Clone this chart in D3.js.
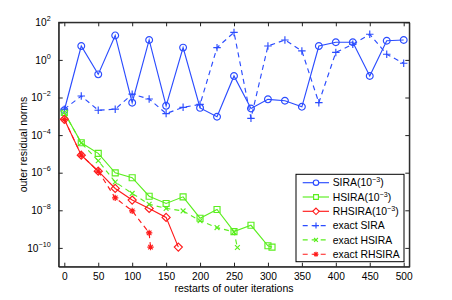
<!DOCTYPE html>
<html>
<head>
<meta charset="utf-8">
<script src="https://cdn.jsdelivr.net/npm/d3@7"></script>
<style>
  body { margin: 0; background: #fff; }
  text { font-family: "Liberation Sans", Arial, sans-serif; fill: #000; }
</style>
</head>
<body>
<script>
// restart counts and residual norms
var siraIters = [0,25,50,75,100,125,150,175,200,225,250,275,300,325,350,375,400,425,450,475,500];
var sira = [2.1e-3,5.5,0.17,20,5.3e-3,11.5,3.6e-3,4.5,2.8e-3,9.5e-4,0.14,2.6e-3,8e-3,6.7e-3,3.2e-3,5.5,8.7,8.7,0.14,10.5,11.5];
var exactSira = [2.4e-3,1.2e-2,2.1e-3,2.4e-3,1.5e-2,8.3e-3,1.4e-3,3e-3,4.3e-3,4.5,29,7.8e-4,5.5,11.5,3,5.3e-3,2.5,6.8,23,2,0.66];

var hsiraIters = [0,25,50,75,100,125,150,175,200,225,250,275,300,306];
var hsira = [1.6e-3,3.9e-5,1.07e-5,9.8e-7,5.4e-7,5.6e-8,2.3e-8,5.2e-8,3.8e-9,1.1e-8,7.4e-10,1.6e-9,1.3e-10,1.1e-10];
var exactHsiraIters = [0,25,50,75,100,125,150,175,200,225,250,255];
var exactHsira = [1.6e-3,3.8e-5,4.3e-6,3.2e-7,7.9e-8,2.1e-8,1.26e-8,9.3e-9,2.8e-9,1.2e-9,7.1e-10,1.05e-10];

var rhsiraIters = [0,25,50,75,100,125,150,168];
var rhsira = [6.9e-4,8.6e-6,1.2e-6,1.45e-7,3.5e-8,1.26e-8,4.2e-9,1.1e-10];
var exactRhsiraIters = [0,25,50,75,100,125,127];
var exactRhsira = [6.9e-4,8.6e-6,1.2e-6,4.6e-8,9.3e-9,6.3e-10,1.1e-10];

var xTicks = [0,50,100,150,200,250,300,350,400,450,500];
var yTicks = [1e-10,1e-8,1e-6,1e-4,1e-2,1,1e2];
var legendNames = ["SIRA", "HSIRA", "RHSIRA", "exact SIRA", "exact HSIRA", "exact RHSIRA"];

function init() {
    var w = 452;
    var h = 300;
    var left = 58.7, right = 409.3, top = 22.3, bottom = 266.7;
    var blue = "#2b4cff", green = "#5aee1e", red = "#ff1a1a";

    var svg = d3.select("body")
                .append("svg")
                .attr("width", w)
                .attr("height", h);

    var xScale = d3.scaleLinear()
                   .domain([-8.25, 508.25])
                   .range([left, right]);
    var yScale = d3.scaleLog()
                   .domain([1e-11, 1e2])
                   .range([bottom, top]);

    // plot box
    svg.append("rect")
       .attr("x", left).attr("y", top)
       .attr("width", right - left).attr("height", bottom - top)
       .attr("fill", "none")
       .attr("stroke", "#222")
       .attr("stroke-width", 1);

    var xAxis = d3.axisBottom(xScale).tickValues(xTicks).tickSize(-4).tickSizeOuter(0).tickPadding(6);
    var gx = svg.append("g").attr("transform", "translate(0," + bottom + ")").call(xAxis);
    gx.selectAll("text").attr("font-size", 10.2).attr("font-family", "Liberation Sans, Arial, sans-serif");

    svg.append("g").attr("transform", "translate(0," + top + ")")
       .call(d3.axisTop(xScale).tickValues(xTicks).tickSize(-4).tickSizeOuter(0).tickFormat(""));

    var yAxis = d3.axisLeft(yScale).tickValues(yTicks).tickSize(-4).tickSizeOuter(0).tickPadding(8).tickFormat("");
    var gy = svg.append("g").attr("transform", "translate(" + left + ",0)").call(yAxis);
    gy.selectAll(".tick text").each(function(d) {
        var t = d3.select(this)
                  .attr("font-size", 10.2)
                  .attr("font-family", "Liberation Sans, Arial, sans-serif");
        var e = Math.round(Math.log10(d));
        t.append("tspan").text("10");
        t.append("tspan").attr("dy", -5).attr("font-size", 7.2)
         .text(e < 0 ? "\u2212" + (-e) : e);
    });

    svg.append("g").attr("transform", "translate(" + right + ",0)")
       .call(d3.axisRight(yScale).tickValues(yTicks).tickSize(-4).tickSizeOuter(0).tickFormat(""));

    svg.selectAll(".domain").attr("stroke", "#222");
    svg.selectAll(".tick line").attr("stroke", "#222");

    // axis titles
    svg.append("text")
       .attr("x", (left + right) / 2).attr("y", 291.5)
       .attr("text-anchor", "middle")
       .attr("font-size", 10.5)
       .text("restarts of outer iterations");
    svg.append("text")
       .attr("transform", "translate(27.3," + (top + bottom) / 2 + ") rotate(-90)")
       .attr("text-anchor", "middle")
       .attr("font-size", 10.5)
       .text("outer residual norms");

    // marker shapes
    function circle(s) { var r = s; return "M" + (-r) + ",0a" + r + "," + r + " 0 1,0 " + (2 * r) + ",0a" + r + "," + r + " 0 1,0 " + (-2 * r) + ",0"; }
    function square(s) { return "M" + (-s) + "," + (-s) + "H" + s + "V" + s + "H" + (-s) + "Z"; }
    function diamond(s) { var d = s * 1.35; return "M0," + (-d) + "L" + d + ",0L0," + d + "L" + (-d) + ",0Z"; }
    function plus(s) { var d = s * 1.1; return "M" + (-d) + ",0H" + d + "M0," + (-d) + "V" + d; }
    function cross(s) { var d = s * 0.75; return "M" + (-d) + "," + (-d) + "L" + d + "," + d + "M" + (-d) + "," + d + "L" + d + "," + (-d); }
    function star(s) { return plus(s * 0.85) + cross(s * 0.9); }

    var series = [
        {xs: siraIters, ys: sira, color: blue, dash: null, shape: circle, size: 3.4},
        {xs: hsiraIters, ys: hsira, color: green, dash: null, shape: square, size: 3},
        {xs: rhsiraIters, ys: rhsira, color: red, dash: null, shape: diamond, size: 3},
        {xs: siraIters, ys: exactSira, color: blue, dash: "5,4", shape: plus, size: 3.4},
        {xs: exactHsiraIters, ys: exactHsira, color: green, dash: "5,4", shape: cross, size: 3.2},
        {xs: exactRhsiraIters, ys: exactRhsira, color: red, dash: "5,4", shape: star, size: 3.4}
    ];

    var line = d3.line()
                 .x(function(d) { return xScale(d[0]); })
                 .y(function(d) { return yScale(d[1]); });

    series.forEach(function(s) {
        var pts = d3.zip(s.xs, s.ys);
        svg.append("path")
           .datum(pts)
           .attr("d", line)
           .attr("fill", "none")
           .attr("stroke", s.color)
           .attr("stroke-width", 1.15)
           .attr("stroke-dasharray", s.dash);
        svg.append("g").selectAll("path")
           .data(pts)
           .enter()
           .append("path")
           .attr("transform", function(d) { return "translate(" + xScale(d[0]) + "," + yScale(d[1]) + ")"; })
           .attr("d", s.shape(s.size))
           .attr("fill", "none")
           .attr("stroke", s.color)
           .attr("stroke-width", 1.15);
    });

    // legend
    var lg = svg.append("g");
    lg.append("rect")
      .attr("x", 296).attr("y", 174.3)
      .attr("width", 108).attr("height", 87.4)
      .attr("fill", "#fff")
      .attr("stroke", "#000")
      .attr("stroke-width", 1);

    var rows = lg.selectAll("g.row")
                 .data(series)
                 .enter()
                 .append("g")
                 .attr("class", "row")
                 .attr("transform", function(d, i) { return "translate(0," + (182.7 + i * 14.3) + ")"; });
    rows.append("line")
        .attr("x1", 302.7).attr("x2", 329)
        .attr("stroke", function(d) { return d.color; })
        .attr("stroke-width", 1.15)
        .attr("stroke-dasharray", function(d) { return d.dash; });
    rows.append("path")
        .attr("transform", "translate(316,0)")
        .attr("d", function(d) { return d.shape(d.size * 0.8); })
        .attr("fill", function(d) { return d.shape === plus ? "none" : "#fff"; })
        .attr("stroke", function(d) { return d.color; })
        .attr("stroke-width", 1.15);
    rows.append("text")
        .attr("x", 332.7).attr("y", 3.7)
        .attr("font-size", 10.4)
        .each(function(d, i) {
            var t = d3.select(this);
            if (i < 3) {
                t.append("tspan").text(legendNames[i] + "(10");
                t.append("tspan").attr("dy", -4).attr("font-size", 7.2).text("\u22123");
                t.append("tspan").attr("dy", 4).text(")");
            } else {
                t.text(legendNames[i]);
            }
        });
}
window.onload = init;
</script>
</body>
</html>
